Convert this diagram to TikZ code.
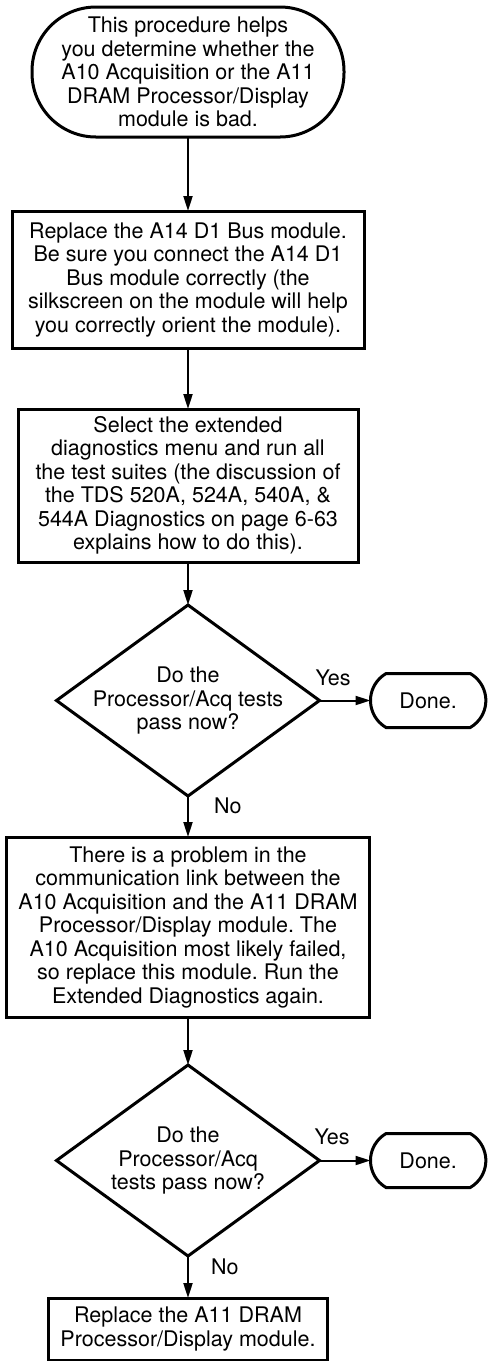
\documentclass[tikz,border=0pt]{standalone}
\usepackage{fontspec}
\setmainfont{TeX Gyre Heros}
\usepackage{tikz}
\usetikzlibrary{shapes.geometric, shapes.misc, arrows.meta, positioning}
\frenchspacing
\definecolor{linecolor}{RGB}{0, 0, 0}
\tikzstyle{terminal} = [draw=linecolor, rectangle, rounded corners=64pt, minimum width=312pt, minimum height=130pt, align=center, inner sep=0pt, outer sep=0pt, line width=3pt]
\tikzstyle{donebox} = [draw=linecolor, rounded rectangle, rounded rectangle arc length=120, minimum width=122pt, minimum height=54pt, align=center, outer sep=0pt, line width=3pt]
\tikzstyle{process} = [draw=linecolor, rectangle, align=center, inner sep=0pt, outer sep=0pt, line width=3pt]
\tikzstyle{decision} = [draw=linecolor, diamond, minimum width=263pt, minimum height=191pt, align=center, inner sep=-20pt, outer sep=0pt, line width=3pt]
\tikzstyle{arrow} = [line width=2pt, -{Triangle[length=15pt, width=9pt]}, color=linecolor]
\tikzstyle{answer} = [inner sep=0pt, pos=0]

\begin{document}
\begin{tikzpicture}[x=1pt, y=1pt, font=\fontsize{21.5}{23.5}\selectfont]
\useasboundingbox (0,0) rectangle (494,-1361);

% Nodes
\node (intro) [terminal] at (188,-72) {This procedure helps\\you determine whether the\\A10 Acquisition or the A11\\DRAM Processor/Display\\module is bad.};

\node (replbus) [process, minimum width=352pt, minimum height=137pt, below=74pt of intro] {Replace the A14 D1 Bus module.\\Be sure you connect the A14 D1\\Bus module correctly (the\\silkscreen on the module will help\\you correctly orient the module).};

\node (rundiag) [process, minimum width=340pt, minimum height=153pt, below=61pt of replbus] {Select the extended\\diagnostics menu and run all\\the test suites (the discussion of\\the TDS 520A, 524A, 540A, \&\\544A Diagnostics on page 6-63\\explains how to do this).};

\node (passone) [decision, below=43pt of rundiag] {Do the\\Processor/Acq tests\\pass now?};

\node (doneone) [donebox, right=51pt of passone] {Done.};

\node (replacq) [process, minimum width=363pt, minimum height=180pt, below=41pt of passone] {There is a problem in the\\communication link between the\\A10 Acquisition and the A11 DRAM\\Processor/Display module. The\\A10 Acquisition most likely failed,\\so replace this module. Run the\\Extended Diagnostics again.};

\node (passtwo) [decision, below=48pt of replacq] {Do the\\Processor/Acq\\tests pass now?};

\node (donetwo) [donebox, right=51pt of passtwo] {Done.};

\node (repldram) [process, minimum width=279pt, minimum height=62pt, below=42pt of passtwo] {Replace the A11 DRAM\\Processor/Display module.};

% Arrows
\draw [arrow] (intro) -- (replbus);
\draw [arrow] (replbus) -- (rundiag);
\draw [arrow] (rundiag) -- (passone);

\draw [arrow] (passone) -- node[answer, anchor=south west, xshift=-5pt, yshift=14pt] {Yes} (doneone);
\draw [arrow] (passone) -- node[answer, anchor=north west, xshift=25pt, yshift=-1pt] {No} (replacq);

\draw [arrow] (replacq) -- (passtwo);

\draw [arrow] (passtwo) -- node[answer, anchor=south west, xshift=-6pt, yshift=15pt] {Yes} (donetwo);
\draw [arrow] (passtwo) -- node[answer, anchor=north west, xshift=22pt, yshift=-2pt] {No} (repldram);

\end{tikzpicture}
\end{document}
